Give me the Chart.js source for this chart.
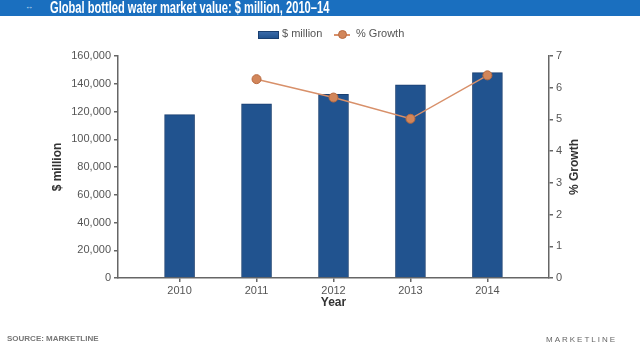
<!DOCTYPE html>
<html>
<head>
    <title>Global bottled water market value</title>
    <script src="https://cdn.jsdelivr.net/npm/chart.js"></script>
    <style>
        body { margin: 0; background: #fff; font-family: "Liberation Sans", Arial, sans-serif; }
        #wrap { position: relative; width: 640px; height: 354px; overflow: hidden; }
        #chart { position: absolute; left: 0; top: 0; }
        .banner { position: absolute; left: 0; top: 0; width: 640px; height: 16px; background: #1a6fbf; }
        .banner .icon { position: absolute; left: 25px; top: 2px; font-size: 8px; color: #cfe0f2; }
        .banner .title { position: absolute; left: 50px; top: -1px; font-weight: bold; font-size: 16px; line-height: 18px; color: #fff; white-space: nowrap; transform: scaleX(0.695); transform-origin: left center; }
        .legend { position: absolute; top: 27px; left: 0; font-size: 11px; color: #555; }
        .legend .box { position: absolute; left: 258px; top: 4px; width: 19px; height: 6px; border: 1px solid #1a3f70; background: linear-gradient(#3a6aa8, #21538f); }
        .legend .t1 { position: absolute; left: 282px; top: 0; white-space: nowrap; }
        .legend .ln { position: absolute; left: 334px; top: 7px; width: 16px; height: 1.5px; background: #d8906a; }
        .legend .dot { position: absolute; left: 338px; top: 3px; width: 7px; height: 7px; border-radius: 50%; background: #d2865a; border: 1px solid #b86a40; }
        .legend .t2 { position: absolute; left: 356px; top: 0; white-space: nowrap; }
        .ytitle2 { position: absolute; left: 574px; top: 167px; transform: translate(-50%, -50%) rotate(-90deg); font-weight: bold; font-size: 12px; color: #333; white-space: nowrap; }
        .source { position: absolute; left: 7px; top: 334px; font-weight: bold; font-size: 8px; color: #777; }
        .brand { position: absolute; left: 546px; top: 335px; font-size: 8px; letter-spacing: 2px; color: #666; }
    </style>
</head>
<body>
<div id="wrap">
    <canvas id="chart" width="640" height="354"></canvas>
    <div class="banner"><span class="icon">&#8596;</span><span class="title">Global bottled water market value: $ million, 2010–14</span></div>
    <div class="legend">
        <span class="box"></span><span class="t1">$ million</span>
        <span class="ln"></span><span class="dot"></span><span class="t2">% Growth</span>
    </div>
    <div class="ytitle2">% Growth</div>
    <div class="source">SOURCE: MARKETLINE</div>
    <div class="brand">MARKETLINE</div>
</div>
<script>
    // données
    const years = [2010, 2011, 2012, 2013, 2014];
    const marketValue = [117700, 125600, 132400, 139300, 148000];
    const growth = [null, 6.27, 5.69, 5.02, 6.39];
    const valueTicks = [0, 20000, 40000, 60000, 80000, 100000, 120000, 140000, 160000];
    const growthTicks = [0, 1, 2, 3, 4, 5, 6, 7];

    const axisColor = '#666';
    const tickFont = { family: 'Liberation Sans', size: 11 };

    const barData = years.map((y, i) => ({ x: y, y: marketValue[i] }));
    const lineData = years.map((y, i) => ({ x: y, y: growth[i] })).filter(p => p.y !== null);

    new Chart(document.getElementById('chart'), {
        data: {
            datasets: [
                {
                    type: 'line', label: '% Growth', data: lineData, yAxisID: 'y1', order: 0,
                    borderColor: '#d8906a', borderWidth: 1.5,
                    pointRadius: 4.5, pointBackgroundColor: '#d2865a', pointBorderColor: '#b86a40', pointBorderWidth: 1
                },
                {
                    type: 'bar', label: '$ million', data: barData, yAxisID: 'y', order: 1,
                    backgroundColor: '#21538f', borderColor: '#1a3f70', borderWidth: 1, barThickness: 30
                }
            ]
        },
        options: {
            responsive: false,
            animation: false,
            layout: { padding: { top: 56, left: 0, right: 0, bottom: 0 } },
            plugins: { legend: { display: false }, tooltip: { enabled: false } },
            scales: {
                x: {
                    type: 'linear', position: 'bottom', min: 2009.2, max: 2014.8, offset: false,
                    afterBuildTicks: s => { s.ticks = years.map(v => ({ value: v })); },
                    afterFit: s => { s.height = 76; },
                    ticks: { color: '#555', font: tickFont, padding: 2, callback: v => String(v) },
                    grid: { offset: false, drawOnChartArea: false, tickLength: 4, color: axisColor, lineWidth: 1.5 },
                    border: { color: axisColor, width: 1.5 },
                    title: { display: true, text: 'Year', color: '#333', font: { family: 'Liberation Sans', size: 12, weight: 'bold' }, padding: { bottom: 44 } }
                },
                y: {
                    position: 'left', min: 0, max: 160000,
                    afterBuildTicks: s => { s.ticks = valueTicks.map(v => ({ value: v })); },
                    afterFit: s => { s.width = 118; },
                    ticks: { color: '#555', font: tickFont, padding: 3 },
                    grid: { drawOnChartArea: false, tickLength: 4, color: axisColor, lineWidth: 1.5 },
                    border: { color: axisColor, width: 1.5 },
                    title: { display: true, text: '$ million', color: '#333', font: { family: 'Liberation Sans', size: 12, weight: 'bold' }, padding: { top: 50 } }
                },
                y1: {
                    position: 'right', min: 0, max: 7,
                    afterBuildTicks: s => { s.ticks = growthTicks.map(v => ({ value: v })); },
                    afterFit: s => { s.width = 91; },
                    ticks: { color: '#555', font: tickFont, padding: 3 },
                    grid: { drawOnChartArea: false, tickLength: 4, color: axisColor, lineWidth: 1.5 },
                    border: { color: axisColor, width: 1.5 }
                }
            }
        }
    });
</script>
</body>
</html>
